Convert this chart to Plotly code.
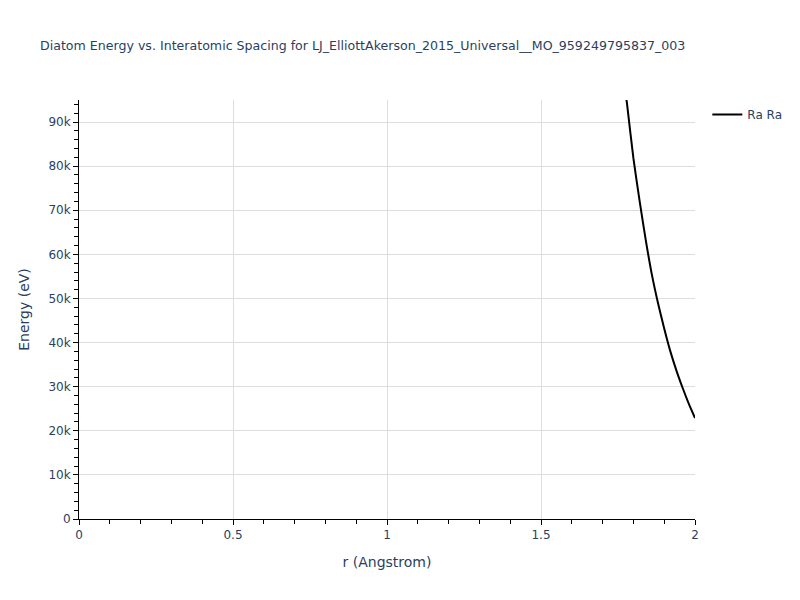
import plotly.graph_objects as go

r_values = [1.76, 1.78, 1.80, 1.82, 1.84, 1.86, 1.88, 1.90, 1.92, 1.94, 1.96, 1.98, 2.00]
energy_values = [105000, 93700, 81800, 72200, 63300, 55400, 48900, 43200, 38000, 33600, 29700, 26100, 22900]
series_name = "Ra Ra"
title_text = "Diatom Energy vs. Interatomic Spacing for LJ_ElliottAkerson_2015_Universal__MO_959249795837_003"

fig = go.Figure()
fig.add_trace(go.Scatter(x=r_values, y=energy_values, mode="lines", name=series_name,
                         line=dict(color="black", width=2, shape="spline", smoothing=0.6)))

fig.update_layout(
    width=800, height=600,
    template="plotly",
    font=dict(family="DejaVu Sans, Verdana, sans-serif"),
    plot_bgcolor="white", paper_bgcolor="white",
    margin=dict(l=71, r=113, t=92, b=89, autoexpand=False),
    title=dict(text=title_text, font=dict(size=12.6), x=0.04, xanchor="left",
               y=1 - 38 / 600, yanchor="middle"),
    showlegend=True,
    legend=dict(x=1.02, y=1, xanchor="left", yanchor="top"),
)
axis_common = dict(showline=True, linecolor="black", linewidth=1, ticks="outside",
                   tickcolor="black", ticklen=5, gridcolor="#dddddd", zeroline=False,
                   automargin=False)
fig.update_xaxes(title_text="r (Angstrom)", range=[0, 2], dtick=0.5,
                 minor=dict(dtick=0.1, ticks="outside", ticklen=4, tickcolor="black", showgrid=False),
                 **axis_common)
fig.update_yaxes(title_text="Energy (eV)", range=[0, 95000], dtick=10000,
                 minor=dict(dtick=2000, ticks="outside", ticklen=4, tickcolor="black", showgrid=False),
                 **axis_common)

fig.write_html("out.html")
